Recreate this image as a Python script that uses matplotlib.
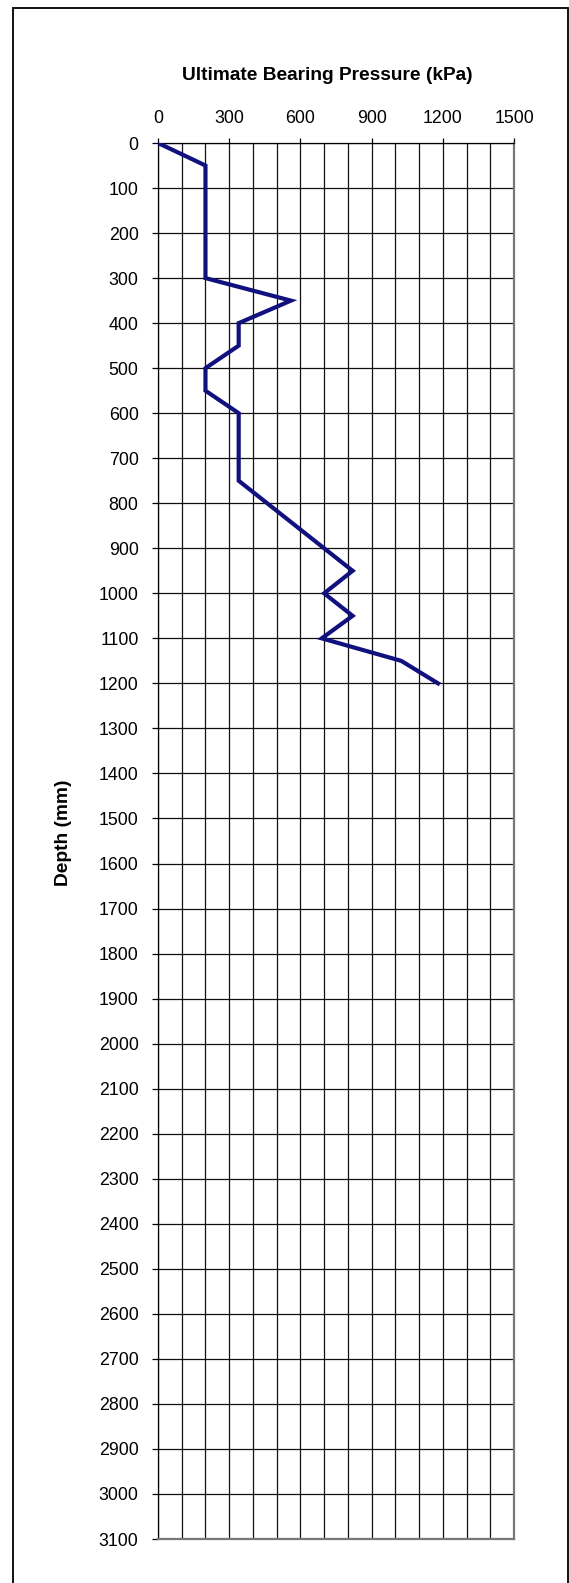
import matplotlib
matplotlib.use("Agg")
import matplotlib.pyplot as plt
from matplotlib.patches import Rectangle
import numpy as np

plt.rcParams['font.family'] = ['Liberation Sans', 'DejaVu Sans']

depth = [0, 50, 100, 150, 200, 250, 300, 350, 400, 450, 500, 550, 600,
         650, 700, 750, 800, 850, 900, 950, 1000, 1050, 1100, 1150, 1200]
pressure = [0, 200, 200, 200, 200, 200, 200, 560, 340, 340, 200, 200, 340,
            340, 340, 340, 460, 580, 700, 820, 700, 820, 690, 1025, 1180]
x_ticks = [0, 300, 600, 900, 1200, 1500]
y_ticks = list(range(0, 3101, 100))

W, H = 569, 1583
fig = plt.figure(figsize=(W / 100, H / 100), dpi=100)

# outer frame
fig.add_artist(Rectangle((13 / W, -0.01), (568 - 13) / W, 1.01 - 8 / H,
                         transform=fig.transFigure, fill=False,
                         edgecolor='black', linewidth=1.3))

left, right, top, bottom = 158, 514, 143, 1539
ax = fig.add_axes([left / W, 1 - bottom / H, (right - left) / W, (bottom - top) / H])

ax.plot(pressure, depth, color='#10107e', linewidth=3.0, solid_joinstyle='miter', zorder=5)

ax.set_xlim(0, 1500)
ax.set_ylim(3100, 0)
ax.xaxis.tick_top()
ax.set_xticks(x_ticks)
ax.set_xticks(np.arange(0, 1501, 100), minor=True)
ax.set_yticks(y_ticks)
ax.tick_params(axis='x', which='major', length=3.5, width=0.9, pad=8, labelsize=12.8, direction='out')
ax.tick_params(axis='x', which='minor', length=0)
ax.tick_params(axis='y', which='major', length=4.5, width=0.9, pad=9.5, labelsize=12.8, direction='out')

ax.grid(True, which='both', axis='x', color='#111111', linewidth=0.9)
ax.grid(True, which='major', axis='y', color='#111111', linewidth=0.9)
ax.set_axisbelow(True)

for s in ['top', 'left']:
    ax.spines[s].set_color('black')
    ax.spines[s].set_linewidth(0.9)
for s in ['right', 'bottom']:
    ax.spines[s].set_color('#777777')
    ax.spines[s].set_linewidth(1.6)

fig.text(327 / W, 1 - 76 / H, 'Ultimate Bearing Pressure (kPa)', ha='center', va='center',
         fontsize=13.8, fontweight='bold')
fig.text(63 / W, 1 - 833 / H, 'Depth (mm)', ha='center', va='center', rotation=90,
         fontsize=13.8, fontweight='bold')

fig.savefig('out.png', dpi=100)
